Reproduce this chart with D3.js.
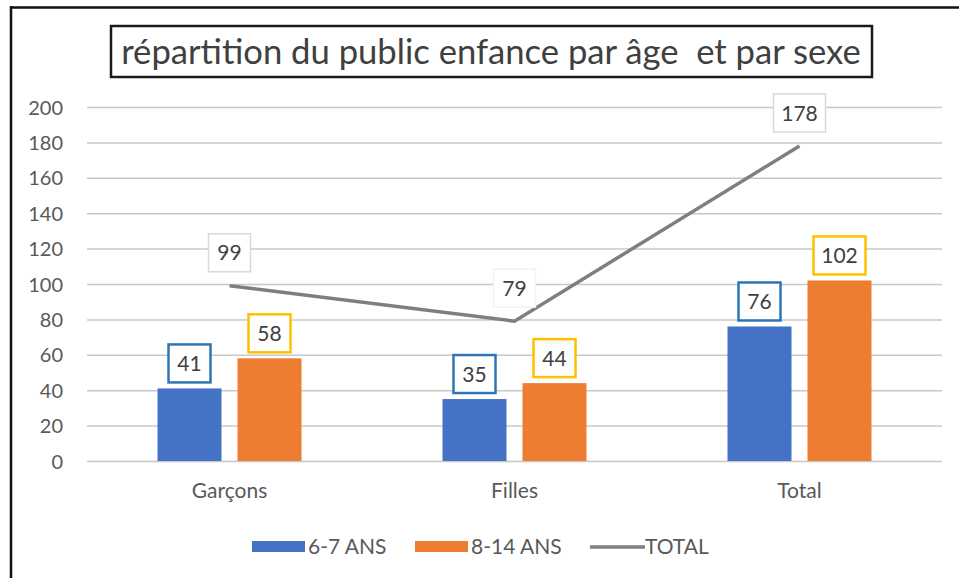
<!DOCTYPE html>
<html><head><meta charset="utf-8">
<script src="https://cdn.jsdelivr.net/npm/d3@7"></script>
<style>html,body{margin:0;padding:0;background:#fff;}svg{display:block;}</style>
</head><body>
<svg id="c" width="959" height="578"></svg>
<script>
const categories = ["Garçons", "Filles", "Total"];
const series67 = [41, 35, 76];
const series814 = [58, 44, 102];
const seriesTotal = [99, 79, 178];
const yTicks = [0, 20, 40, 60, 80, 100, 120, 140, 160, 180, 200];
const legendLabels = ["6-7 ANS", "8-14 ANS", "TOTAL"];
const titleText = "répartition du public enfance par âge  et par sexe";

const FONT = "Lato, 'Open Sans', sans-serif";
const svg = d3.select("#c");
const W = 959, H = 578;
const plot = {left: 87, right: 942, top: 107, bottom: 461};

svg.append("rect").attr("width", W).attr("height", H).attr("fill", "#fff");
// frame (top and left)
svg.append("line").attr("x1", 10).attr("x2", W).attr("y1", 7.5).attr("y2", 7.5).attr("stroke", "#111").attr("stroke-width", 2.5);
svg.append("line").attr("x1", 11).attr("x2", 11).attr("y1", 6).attr("y2", H).attr("stroke", "#111").attr("stroke-width", 2.5);

const x = d3.scaleBand().domain(categories).range([plot.left, plot.right]).paddingInner(0).paddingOuter(0);
const y = d3.scaleLinear().domain([0, 200]).range([plot.bottom, plot.top]);
const barW = 64, barGap = 16;

// gridlines + y labels
const yAxis = d3.axisLeft(y).tickValues(yTicks).tickSize(-(plot.right - plot.left)).tickPadding(24).tickFormat(d3.format("d"));
const ga = svg.append("g").attr("transform", `translate(${plot.left},0)`).call(yAxis);
ga.select(".domain").remove();
ga.selectAll(".tick line").attr("stroke", "#c8c8c8").attr("stroke-width", 1.5);
ga.selectAll(".tick text").attr("fill", "#595959").attr("font-family", FONT).attr("font-size", 20).attr("dy", "0.35em");

// x labels
const xAxis = d3.axisBottom(x).tickSize(0).tickPadding(22);
const gx = svg.append("g").attr("transform", `translate(0,${plot.bottom})`).call(xAxis);
gx.select(".domain").remove();
gx.selectAll(".tick text").attr("fill", "#595959").attr("font-family", FONT).attr("font-size", 21);

const cx = c => x(c) + x.bandwidth() / 2;
const barX = (c, i) => cx(c) + (i === 0 ? -(barW + barGap / 2) : barGap / 2);

const seriesList = [
  {vals: series67, color: "#4472c4", border: "#2e75b6"},
  {vals: series814, color: "#ed7d31", border: "#ffc000"}
];
seriesList.forEach((s, i) => {
  svg.append("g").selectAll("rect").data(categories).join("rect")
    .attr("x", c => barX(c, i)).attr("width", barW)
    .attr("y", (c, j) => y(s.vals[j])).attr("height", (c, j) => y(0) - y(s.vals[j]))
    .attr("fill", s.color);
});

// line
const line = d3.line().x((d, i) => cx(categories[i])).y(d => y(d));
svg.append("path").datum(seriesTotal).attr("d", line).attr("fill", "none")
  .attr("stroke", "#7f7f7f").attr("stroke-width", 3.5).attr("stroke-linejoin", "miter");

// labels
function label(xc, ybot, text, border, bw) {
  const h = 38, w = text.length > 2 ? 52 : 42;
  svg.append("rect").attr("x", xc - w / 2).attr("y", ybot - h).attr("width", w).attr("height", h)
    .attr("fill", "#fff").attr("stroke", border).attr("stroke-width", bw);
  svg.append("text").attr("x", xc).attr("y", ybot - h / 2).attr("dy", "0.36em").attr("text-anchor", "middle")
    .attr("font-family", FONT).attr("font-size", 21).attr("fill", "#404040").text(text);
}
seriesList.forEach((s, i) => {
  categories.forEach((c, j) => {
    label(barX(c, i) + barW / 2, y(s.vals[j]) - 6, String(s.vals[j]), s.border, 2.5);
  });
});
categories.forEach((c, j) => {
  label(cx(c), y(seriesTotal[j]) - 14, String(seriesTotal[j]), j === 1 ? "#f2f2f2" : "#d9d9d9", 1.5);
});

// title
svg.append("rect").attr("x", 111).attr("y", 26).attr("width", 761).attr("height", 51)
  .attr("fill", "#fff").attr("stroke", "#1a1a1a").attr("stroke-width", 2.5);
const t = svg.append("text").attr("x", 491).attr("y", 52).attr("dy", "0.35em").attr("text-anchor", "middle")
  .attr("font-family", FONT).attr("font-size", 27).attr("fill", "#404040")
  .style("white-space", "pre").text(titleText);
const tw = t.node().getComputedTextLength();
t.attr("font-size", 27 * 740 / tw);

// legend
const lg = svg.append("g");
const legendItems = [
  {x: 252, color: "#4472c4", type: "rect"},
  {x: 415, color: "#ed7d31", type: "rect"},
  {x: 590, color: "#7f7f7f", type: "line"}
];
legendItems.forEach((it, i) => {
  if (it.type === "rect") {
    lg.append("rect").attr("x", it.x).attr("y", 541).attr("width", 53).attr("height", 11).attr("fill", it.color);
  } else {
    lg.append("line").attr("x1", it.x).attr("x2", it.x + 55).attr("y1", 547).attr("y2", 547).attr("stroke", it.color).attr("stroke-width", 3.5);
  }
  lg.append("text").attr("x", it.x + (it.type === "rect" ? 56 : 55)).attr("y", 547).attr("dy", "0.35em")
    .attr("font-family", FONT).attr("font-size", 21).attr("fill", "#595959").text(legendLabels[i]);
});
</script>
</body></html>
